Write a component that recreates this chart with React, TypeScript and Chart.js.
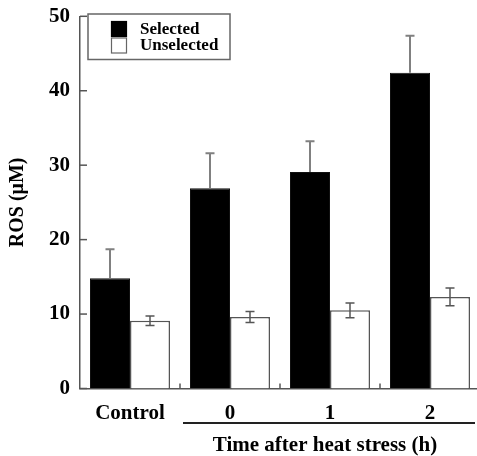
import React, { useEffect, useRef } from "react";
import { Chart, registerables } from "chart.js";

Chart.register(...registerables);

const categories = ["Control", "0", "1", "2"];
const seriesNames = ["Selected", "Unselected"];
const selectedValues = [14.8, 26.9, 29.1, 42.4];
const selectedErrors = [3.9, 4.7, 4.1, 5.0];
const unselectedValues = [9.1, 9.6, 10.5, 12.3];
const unselectedErrors = [0.65, 0.75, 1.0, 1.2];
const yTitle = "ROS (\u03bcM)";
const xGroupTitle = "Time after heat stress (h)";
const yMin = 0;
const yMax = 50;
const yStep = 10;

const FONT = "'Liberation Serif', 'Times New Roman', serif";
const AXIS_COLOR = "#555";

const errorBarPlugin = {
  id: "errorBars",
  afterDatasetsDraw(chart: any) {
    const ctx = chart.ctx;
    const y = chart.scales.y;
    const errs = [selectedErrors, unselectedErrors];
    const vals = [selectedValues, unselectedValues];
    chart.data.datasets.forEach((_ds: any, di: number) => {
      const meta = chart.getDatasetMeta(di);
      meta.data.forEach((bar: any, i: number) => {
        const v = vals[di][i];
        const e = errs[di][i];
        const x = bar.x;
        const yTop = y.getPixelForValue(v + e);
        const yBot = y.getPixelForValue(di === 0 ? v : v - e);
        ctx.save();
        ctx.strokeStyle = di === 0 ? "#808080" : "#555";
        ctx.lineWidth = di === 0 ? 2 : 1.5;
        ctx.beginPath();
        ctx.moveTo(x, yTop);
        ctx.lineTo(x, yBot);
        const cap = 4.5;
        ctx.moveTo(x - cap, yTop);
        ctx.lineTo(x + cap, yTop);
        if (di === 1) {
          ctx.moveTo(x - cap, yBot);
          ctx.lineTo(x + cap, yBot);
        }
        ctx.stroke();
        ctx.restore();
      });
    });
  },
};

const decorPlugin = {
  id: "decor",
  afterDraw(chart: any) {
    const ctx = chart.ctx;
    const xs = chart.scales.x;
    const ys = chart.scales.y;
    const area = chart.chartArea;
    ctx.save();
    ctx.strokeStyle = AXIS_COLOR;
    ctx.lineWidth = 1.5;
    for (let v = yMin; v <= yMax; v += yStep) {
      const py = ys.getPixelForValue(v);
      ctx.beginPath();
      ctx.moveTo(area.left, py);
      ctx.lineTo(area.left + 7, py);
      ctx.stroke();
    }
    for (let i = 0; i < categories.length - 1; i++) {
      const px = (xs.getPixelForValue(i) + xs.getPixelForValue(i + 1)) / 2;
      ctx.beginPath();
      ctx.moveTo(px, area.bottom);
      ctx.lineTo(px, area.bottom - 5);
      ctx.stroke();
    }
    const left = (xs.getPixelForValue(0) + xs.getPixelForValue(1)) / 2 + 3;
    const right = area.right - 5;
    ctx.strokeStyle = "#222";
    ctx.lineWidth = 2;
    ctx.beginPath();
    ctx.moveTo(left, 423);
    ctx.lineTo(right, 423);
    ctx.stroke();
    ctx.fillStyle = "#000";
    ctx.font = `bold 21px ${FONT}`;
    ctx.textAlign = "center";
    ctx.textBaseline = "middle";
    ctx.fillText(xGroupTitle, (left + right) / 2 - 4, 446);

    const lx = 88, ly = 14, lw = 142, lh = 45.5;
    ctx.strokeStyle = "#666";
    ctx.lineWidth = 1.5;
    ctx.strokeRect(lx, ly, lw, lh);
    const colors = ["#000", "#fff"];
    const borders = ["#000", "#666"];
    seriesNames.forEach((name, i) => {
      const sy = 21.5 + i * 16.5;
      ctx.fillStyle = colors[i];
      ctx.fillRect(111.5, sy, 15, 15);
      ctx.strokeStyle = borders[i];
      ctx.lineWidth = 1.2;
      ctx.strokeRect(111.5, sy, 15, 15);
      ctx.fillStyle = "#000";
      ctx.font = `bold 17px ${FONT}`;
      ctx.textAlign = "left";
      ctx.textBaseline = "middle";
      ctx.fillText(name, 140, sy + 8);
    });
    ctx.restore();
  },
};

export default function App() {
  const ref = useRef<HTMLCanvasElement | null>(null);
  useEffect(() => {
    if (!ref.current) return;
    const chart = new Chart(ref.current, {
      type: "bar",
      data: {
        labels: categories,
        datasets: [
          {
            label: seriesNames[0],
            data: selectedValues,
            backgroundColor: "#000",
            borderColor: "#111",
            borderWidth: 1,
            categoryPercentage: 0.8,
            barPercentage: 1.0,
          },
          {
            label: seriesNames[1],
            data: unselectedValues,
            backgroundColor: "#fff",
            borderColor: "#555",
            borderWidth: 1.5,
            categoryPercentage: 0.8,
            barPercentage: 1.0,
          },
        ],
      },
      options: {
        responsive: false,
        animation: false,
        layout: { padding: { left: 0, right: 2, top: 12, bottom: 0 } },
        plugins: { legend: { display: false }, tooltip: { enabled: false } },
        scales: {
          x: {
            grid: { display: false, drawTicks: false },
            border: { display: true, color: AXIS_COLOR, width: 1.5 },
            ticks: {
              color: "#000",
              font: { family: FONT, size: 21, weight: "bold" },
              padding: 12,
            },
            afterFit: (s: any) => {
              s.height = 67.5;
            },
          },
          y: {
            min: yMin,
            max: yMax,
            grid: { display: false, drawTicks: false },
            border: { display: true, color: AXIS_COLOR, width: 1.5 },
            ticks: {
              stepSize: yStep,
              color: "#000",
              font: { family: FONT, size: 21, weight: "bold", lineHeight: 0.6 },
              padding: 10,
            },
            title: {
              display: true,
              text: yTitle,
              color: "#000",
              font: { family: FONT, size: 20, weight: "bold" },
              padding: { top: 6, bottom: 0 },
            },
            afterFit: (s: any) => {
              s.width = 80;
            },
          },
        },
      },
      plugins: [errorBarPlugin, decorPlugin],
    });
    return () => chart.destroy();
  }, []);
  return (
    <div
      style={{
        position: "fixed",
        left: 0,
        top: 0,
        width: 477,
        height: 456,
        overflow: "hidden",
        background: "#fff",
      }}
    >
      <canvas ref={ref} width={482} height={456} style={{ display: "block" }} />
    </div>
  );
}
